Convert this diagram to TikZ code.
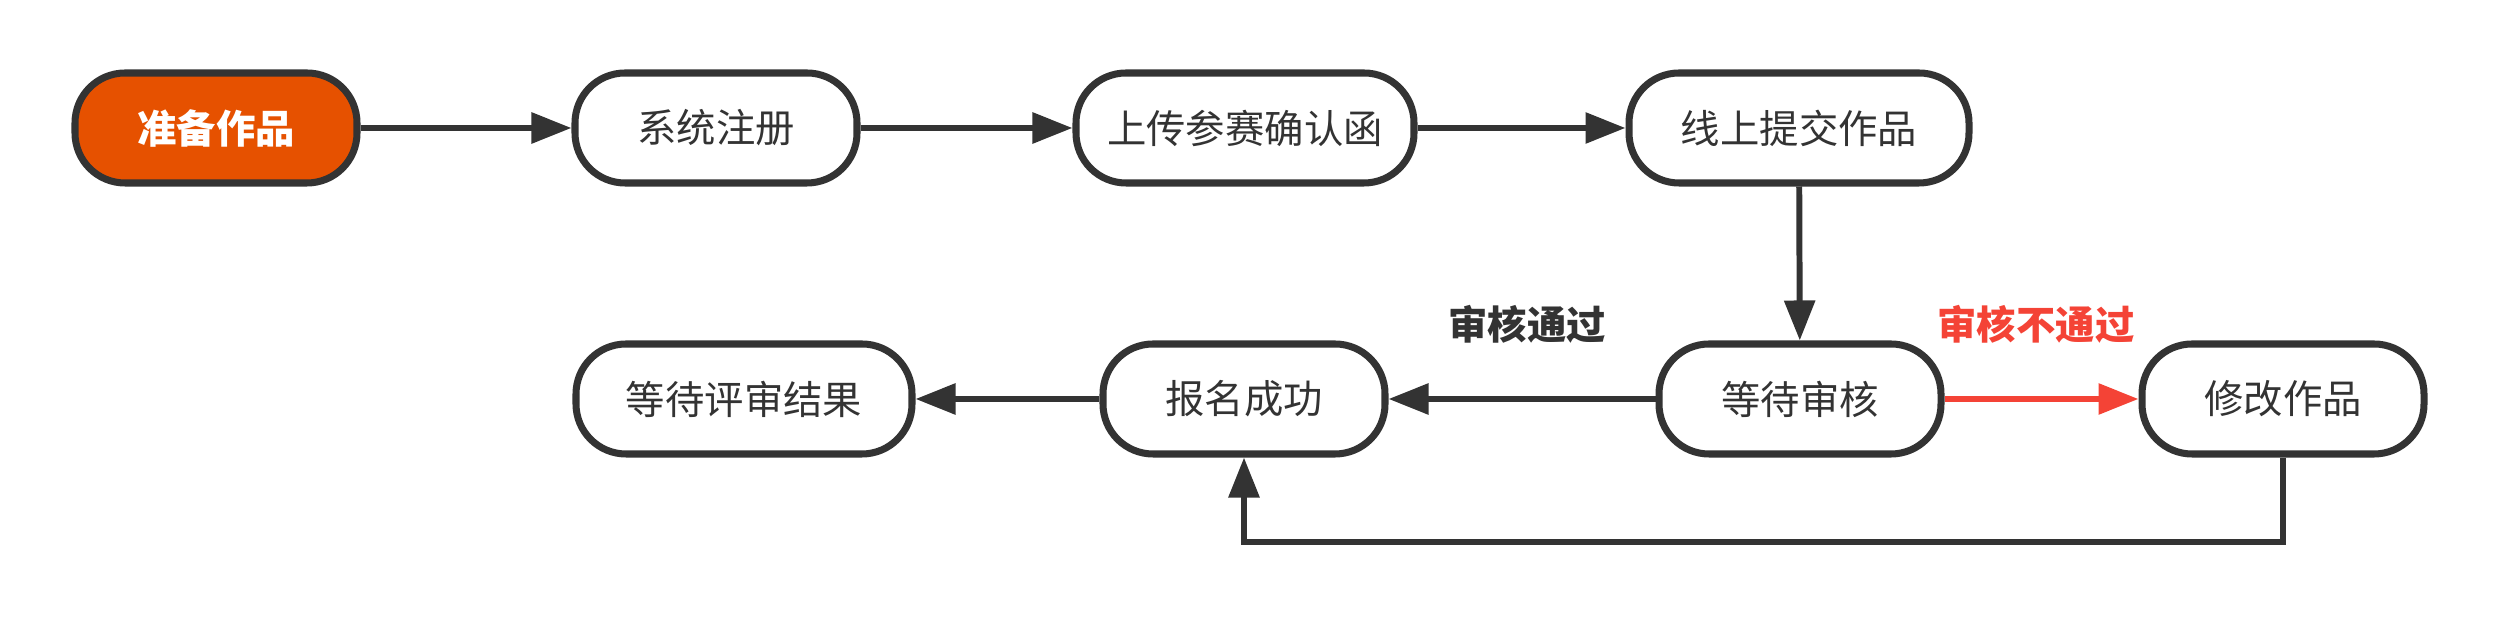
\documentclass[tikz,border=0pt]{standalone}
\usepackage{fontspec}
\setmainfont{Noto Sans CJK SC}
\usepackage{xcolor}
\usepackage{tikz}
\usetikzlibrary{arrows.meta, positioning}

\definecolor{darkline}{HTML}{333333}
\definecolor{startfill}{HTML}{E65100}
\definecolor{failred}{HTML}{F44336}

\begin{document}
\begin{tikzpicture}[>={Triangle[length=0.4cm, width=0.3cm]},
    stepbox/.style={draw=darkline, line width=2pt, fill=white, rounded corners=0.5cm,
        minimum height=1.1cm, text=darkline, font=\fontsize{11.2}{13}\selectfont},
    link/.style={->, draw=darkline, line width=1.7pt}]
    % Rahmen
    \useasboundingbox (0,0) rectangle (24.99,6.18);
    % Erste Reihe
    \node[stepbox, fill=startfill, text=white, minimum width=2.82cm,
        font=\fontsize{11.2}{13}\selectfont\bfseries] (prep) at (2.16,4.90) {准备作品};
    \node[stepbox, minimum width=2.82cm] (reg) at (7.16,4.90) {系统注册};
    \node[stepbox, minimum width=3.38cm] (upload) at (12.45,4.90) {上传参赛确认函};
    \node[stepbox, minimum width=3.40cm] (submit) at (17.99,4.90) {线上提交作品};
    % Zweite Reihe
    \node[stepbox, minimum width=3.36cm] (result) at (7.44,2.19) {等待评审结果};
    \node[stepbox, minimum width=2.82cm] (ok) at (12.44,2.19) {报名成功};
    \node[stepbox, minimum width=2.82cm] (review) at (18.00,2.19) {等待审核};
    \node[stepbox, minimum width=2.82cm] (fix) at (22.83,2.19) {修改作品};
    % Beschriftungen
    \node[text=darkline, font=\fontsize{11.2}{13}\selectfont\bfseries] (passlbl) at (15.27,2.94) {审核通过};
    \node[text=failred, font=\fontsize{11.2}{13}\selectfont\bfseries] (faillbl) at (20.36,2.94) {审核不通过};
    % Pfeile
    \draw[link] (prep) -- (reg);
    \draw[link] (reg) -- (upload);
    \draw[link] (upload) -- (submit);
    \draw[link] (submit) -- (review);
    \draw[link] (review) -- (ok);
    \draw[link] (ok) -- (result);
    \draw[link, draw=failred, fill=failred] (review) -- (fix);
    \coordinate (loop) at (22.83,0.76);
    \draw[link] (fix.south) -- (loop) -| (ok.south);
\end{tikzpicture}
\end{document}
